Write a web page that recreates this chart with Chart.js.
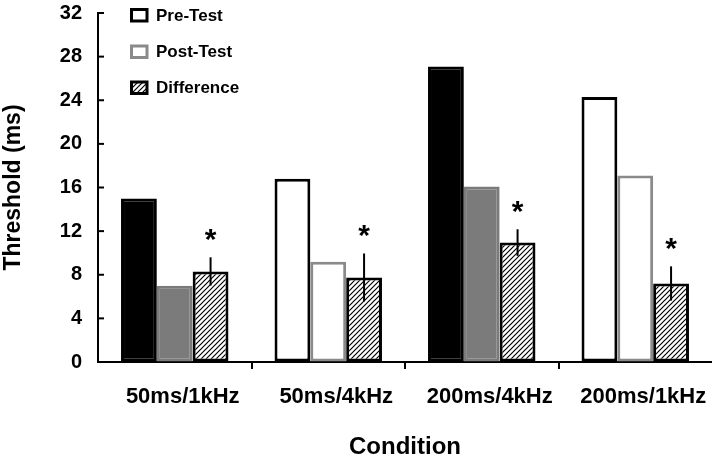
<!DOCTYPE html>
<html>
<head>
<meta charset="utf-8">
<script src="https://cdn.jsdelivr.net/npm/chart.js@4/dist/chart.umd.min.js"></script>
<style>
  html, body { margin: 0; padding: 0; background: #fff; }
  #wrap { width: 712px; height: 456px; }
</style>
</head>
<body>
<div id="wrap"><canvas id="c" width="712" height="456"></canvas></div>
<script>
// ---- data ----
const categories = ['50ms/1kHz', '50ms/4kHz', '200ms/4kHz', '200ms/1kHz'];
const seriesNames = ['Pre-Test', 'Post-Test', 'Difference'];
const preTest = [15.0, 16.8, 27.1, 24.3];
const postTest = [7.0, 9.2, 16.1, 17.1];
const difference = [8.3, 7.75, 10.95, 7.2];
const differenceErr = [1.3, 2.2, 1.22, 1.57];
const significant = [true, true, true, true];
const yTicks = [0, 4, 8, 12, 16, 20, 24, 28, 32];

const FONT = "'Liberation Sans', Arial, Helvetica, sans-serif";

// hatch pattern
function makeHatch() {
  const s = 5;
  const p = document.createElement('canvas');
  p.width = s; p.height = s;
  const g = p.getContext('2d');
  g.fillStyle = '#fff';
  g.fillRect(0, 0, s, s);
  g.strokeStyle = '#000';
  g.lineWidth = 1.2;
  g.beginPath();
  g.moveTo(-1, s + 1); g.lineTo(s + 1, -1);
  g.moveTo(-1, 1); g.lineTo(1, -1);
  g.moveTo(s - 1, s + 1); g.lineTo(s + 1, s - 1);
  g.stroke();
  return document.getElementById('c').getContext('2d').createPattern(p, 'repeat');
}
const hatch = makeHatch();

const BLACK = '#000000';
const GRAYFILL = '#7b7b7b';
const GRAYLINE = '#8a8a8a';
const WHITE = '#ffffff';

const legendPlugin = {
  id: 'customLegend',
  afterDraw(chart) {
    const ctx = chart.ctx;
    const items = [
      { fill: WHITE, stroke: BLACK },
      { fill: WHITE, stroke: GRAYLINE },
      { fill: hatch, stroke: BLACK }
    ];
    const ys = [9.5, 46, 82];
    ctx.save();
    chart.data.datasets.forEach((ds, i) => {
      const x = 131.5, y = ys[i], w = 15.5, h = 11.5;
      ctx.fillStyle = items[i].fill;
      ctx.fillRect(x, y, w, h);
      ctx.lineWidth = 3;
      ctx.strokeStyle = items[i].stroke;
      ctx.strokeRect(x, y, w, h);
      ctx.fillStyle = '#000';
      ctx.font = 'bold 17px ' + FONT;
      ctx.textBaseline = 'middle';
      ctx.textAlign = 'left';
      ctx.fillText(ds.label, 156, y + h / 2 + 1);
    });
    ctx.restore();
  }
};

// inward-pointing y tick marks
const yTickPlugin = {
  id: 'yInwardTicks',
  afterDraw(chart) {
    const ctx = chart.ctx;
    const ys = chart.scales.y;
    const x0 = chart.chartArea.left;
    ctx.save();
    ctx.strokeStyle = '#000';
    ctx.lineWidth = 2;
    ys.ticks.forEach(t => {
      const y = ys.getPixelForValue(t.value);
      ctx.beginPath();
      ctx.moveTo(x0, y);
      ctx.lineTo(x0 + 6, y);
      ctx.stroke();
    });
    ctx.restore();
  }
};

const errorPlugin = {
  id: 'errorBars',
  afterDatasetsDraw(chart) {
    const ctx = chart.ctx;
    const meta = chart.getDatasetMeta(2);
    const ys = chart.scales.y;
    ctx.save();
    meta.data.forEach((bar, i) => {
      const top = ys.getPixelForValue(difference[i] + differenceErr[i]);
      const bot = ys.getPixelForValue(difference[i] - differenceErr[i]);
      ctx.strokeStyle = '#000';
      ctx.lineWidth = 2;
      ctx.beginPath();
      ctx.moveTo(bar.x, top);
      ctx.lineTo(bar.x, bot);
      ctx.stroke();
      if (significant[i]) {
        ctx.fillStyle = '#000';
        ctx.font = 'bold 30px ' + FONT;
        ctx.textAlign = 'center';
        ctx.textBaseline = 'alphabetic';
        ctx.fillText('*', bar.x, top - 21 + 13);
      }
    });
    ctx.restore();
  }
};

new Chart(document.getElementById('c'), {
  type: 'bar',
  data: {
    labels: categories,
    datasets: [
      {
        label: seriesNames[0],
        data: preTest,
        backgroundColor: [BLACK, WHITE, BLACK, WHITE],
        borderColor: BLACK,
        borderWidth: 3,
        borderSkipped: false
      },
      {
        label: seriesNames[1],
        data: postTest,
        backgroundColor: [GRAYFILL, WHITE, GRAYFILL, WHITE],
        borderColor: [GRAYFILL, GRAYLINE, GRAYFILL, GRAYLINE],
        borderWidth: 3,
        borderSkipped: false
      },
      {
        label: seriesNames[2],
        data: difference,
        backgroundColor: hatch,
        borderColor: BLACK,
        borderWidth: 3,
        borderSkipped: false
      }
    ]
  },
  options: {
    responsive: false,
    animation: false,
    layout: { padding: { top: 13, right: 0, left: 0, bottom: 0 } },
    plugins: {
      legend: { display: false },
      tooltip: { enabled: false }
    },
    datasets: { bar: { categoryPercentage: 0.7, barPercentage: 1.0 } },
    scales: {
      x: {
        offset: true,
        grid: {
          offset: true,
          drawOnChartArea: false,
          drawTicks: true,
          tickLength: 7,
          lineWidth: 2,
          color: (c) => (c.type === 'tick' && c.index > 0) ? '#000' : 'rgba(0,0,0,0)'
        },
        border: { display: true, color: '#000', width: 2 },
        ticks: {
          color: '#000',
          font: { family: FONT, size: 22, weight: 'bold' },
          padding: 15,
          labelOffset: 8,
          maxRotation: 0,
          autoSkip: false
        },
        title: {
          display: true,
          text: 'Condition',
          color: '#000',
          font: { family: FONT, size: 24, weight: 'bold', lineHeight: 0.75 },
          padding: { top: 0, bottom: 0 }
        },
        afterFit: (s) => { s.height = 94; s.paddingLeft = 0; s.paddingRight = 0; }
      },
      y: {
        min: 0,
        max: 32,
        afterBuildTicks: (s) => { s.ticks = yTicks.map(v => ({ value: v })); },
        grid: {
          drawOnChartArea: false,
          drawTicks: false
        },
        border: { display: true, color: '#000', width: 2 },
        ticks: {
          color: '#000',
          font: { family: FONT, size: 20, weight: 'bold' },
          padding: 16
        },
        title: {
          display: true,
          text: 'Threshold (ms)',
          color: '#000',
          font: { family: FONT, size: 23, weight: 'bold', lineHeight: 1.2 },
          padding: 0
        },
        afterFit: (s) => { s.width = 98; s.paddingTop = 0; s.paddingBottom = 0; }
      }
    }
  },
  plugins: [errorPlugin, yTickPlugin, legendPlugin]
});
</script>
</body>
</html>
